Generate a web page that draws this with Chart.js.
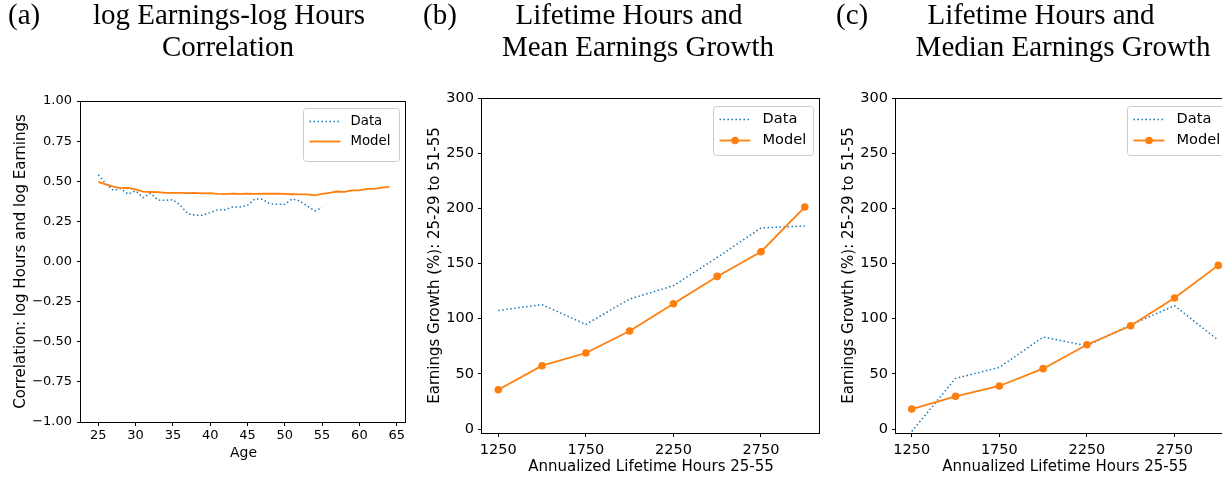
<!DOCTYPE html>
<html>
<head>
<meta charset="utf-8">
<script src="https://cdn.jsdelivr.net/npm/chart.js@4.4.0/dist/chart.umd.min.js"></script>
<style>
  html, body { margin: 0; padding: 0; background: #fff; overflow: hidden; width: 1222px; height: 478px; }
  .wrap { position: relative; width: 1222px; height: 478px; overflow: hidden; }
  canvas { position: absolute; top: 0; }
  .ttl { position: absolute; font-family: 'Liberation Serif', 'Times New Roman', serif; font-size: 29px; line-height: 32px; color: #000; white-space: nowrap; }
  .c { transform: translateX(-50%); }
</style>
</head>
<body>
<div class="wrap">
  <canvas id="chartA" width="415" height="478" style="left:0"></canvas>
  <canvas id="chartB" width="415" height="478" style="left:415px"></canvas>
  <canvas id="chartC" width="420" height="478" style="left:830px"></canvas>

  <div class="ttl" style="left:8px;top:-2.5px">(a)</div>
  <div class="ttl c" style="left:229px;top:-2.5px">log Earnings-log Hours</div>
  <div class="ttl c" style="left:228px;top:29.5px">Correlation</div>

  <div class="ttl" style="left:423px;top:-2.5px">(b)</div>
  <div class="ttl c" style="left:629px;top:-2.5px">Lifetime Hours and</div>
  <div class="ttl c" style="left:638px;top:29.5px">Mean Earnings Growth</div>

  <div class="ttl" style="left:836px;top:-2.5px">(c)</div>
  <div class="ttl c" style="left:1041px;top:-2.5px">Lifetime Hours and</div>
  <div class="ttl c" style="left:1063px;top:29.5px">Median Earnings Growth</div>
</div>
<script>
// (a) correlation of log hours and log earnings by age
const agesData = [25, 26, 27, 28, 29, 30, 31, 32, 33, 34, 35, 36, 37, 38, 39, 40,
  41, 42, 43, 44, 45, 46, 47, 48, 49, 50, 51, 52, 53, 54, 55];
const corrData = [0.540, 0.485, 0.444, 0.454, 0.420, 0.440, 0.398, 0.425, 0.383, 0.381, 0.385,
  0.350, 0.298, 0.288, 0.288, 0.305, 0.322, 0.323, 0.340, 0.340, 0.350, 0.390, 0.388,
  0.360, 0.356, 0.356, 0.390, 0.378, 0.346, 0.315, 0.335];
const agesModel = [25, 26, 27, 28, 29, 30, 31, 32, 33, 34, 35, 36, 37, 38, 39, 40,
  41, 42, 43, 44, 45, 46, 47, 48, 49, 50, 51, 52, 53, 54, 55, 56, 57, 58, 59, 60,
  61, 62, 63, 64];
const corrModel = [0.496, 0.480, 0.466, 0.457, 0.458, 0.449, 0.435, 0.433, 0.432, 0.428,
  0.428, 0.427, 0.426, 0.428, 0.424, 0.426, 0.421, 0.420, 0.423, 0.421, 0.422, 0.421,
  0.422, 0.422, 0.422, 0.421, 0.419, 0.418, 0.418, 0.412, 0.421, 0.428, 0.436, 0.434,
  0.443, 0.443, 0.453, 0.452, 0.460, 0.465];
const ageTicks = [25, 30, 35, 40, 45, 50, 55, 60, 65];
const corrTicks = [-1, -0.75, -0.5, -0.25, 0, 0.25, 0.5, 0.75, 1];

// (b), (c) earnings growth by lifetime hours
const hours = [1250, 1500, 1750, 2000, 2250, 2500, 2750, 3000];
const meanData = [107.5, 112.7, 94.8, 117.8, 129.9, 155.5, 182.2, 184.0];
const meanModel = [35.6, 57.4, 68.9, 88.8, 113.6, 138.3, 160.7, 201.2];
const medianData = [-2.2, 45.9, 55.8, 83.4, 75.5, 94.3, 111.8, 80.5];
const medianModel = [18.1, 29.6, 39.0, 54.7, 76.4, 93.6, 118.7, 148.3];
const hourTicks = [1250, 1750, 2250, 2750];
const growthTicks = [0, 50, 100, 150, 200, 250, 300];

Chart.defaults.font.family = "'DejaVu Sans', sans-serif";
Chart.defaults.font.size = 13;
Chart.defaults.color = '#000';

const BLUE = '#1f77b4', ORANGE = '#ff7f0e';
const pts = (xs, ys) => xs.map((x, i) => ({ x: x, y: ys[i] }));
const minus = s => String(s).replace('-', '\u2212');

// box around the axes + matplotlib style legend
const framePlugin = {
  id: 'frame',
  afterDraw(chart, args, o) {
    const ctx = chart.ctx, a = chart.chartArea;
    ctx.save();
    ctx.strokeStyle = '#000';
    ctx.lineWidth = 1;
    ctx.strokeRect(Math.round(a.left) - 0.5, Math.round(a.top) + 0.5,
      Math.round(a.right - a.left), Math.round(a.bottom - a.top));

    const bx = Math.round(a.right - o.right - o.w) + 0.5;
    const by = Math.round(a.top + o.top) + 0.5;
    ctx.beginPath();
    ctx.roundRect(bx, by, o.w, o.h, 3);
    ctx.fillStyle = 'rgba(255,255,255,0.8)';
    ctx.fill();
    ctx.strokeStyle = '#cccccc';
    ctx.stroke();
    chart.data.datasets.forEach((ds, i) => {
      const y = by + o.rows[i];
      ctx.beginPath();
      ctx.setLineDash(ds.borderDash || []);
      ctx.strokeStyle = ds.borderColor;
      ctx.lineWidth = ds.borderWidth;
      ctx.moveTo(bx + 6, y);
      ctx.lineTo(bx + 37, y);
      ctx.stroke();
      ctx.setLineDash([]);
      if (ds.pointRadius) {
        ctx.beginPath();
        ctx.arc(bx + 21.5, y, ds.pointRadius, 0, Math.PI * 2);
        ctx.fillStyle = ds.borderColor;
        ctx.fill();
      }
      ctx.fillStyle = '#000';
      ctx.font = o.font + "px 'DejaVu Sans'";
      ctx.textBaseline = 'middle';
      ctx.fillText(ds.label, bx + o.textX, y);
    });
    ctx.restore();
  }
};

function axis(opts) {
  return {
    type: 'linear',
    min: opts.min,
    max: opts.max,
    grid: { display: true, drawOnChartArea: false, drawTicks: true, tickLength: 4, color: '#000' },
    border: { display: false },
    ticks: { autoSkip: false, maxRotation: 0, padding: opts.pad, callback: opts.fmt,
      font: { size: opts.tickSize } },
    title: { display: true, text: opts.title, font: { size: opts.titleSize || 15 }, padding: opts.titlePad },
    afterBuildTicks: s => { s.ticks = opts.ticks.map(v => ({ value: v })); },
    afterFit: opts.fit
  };
}

function makeChart(id, datasets, cfg) {
  return new Chart(document.getElementById(id), {
    type: 'line',
    data: { datasets: datasets },
    options: {
      responsive: false,
      animation: false,
      layout: { padding: cfg.padding },
      plugins: { legend: { display: false }, tooltip: { enabled: false }, frame: cfg.legend },
      scales: { x: cfg.x, y: cfg.y }
    },
    plugins: [framePlugin]
  });
}

const dataStyle = { borderColor: BLUE, borderWidth: 1.5, borderDash: [1.5, 2.5], pointRadius: 0, fill: false, tension: 0, order: 1 };
const modelStyle = { borderColor: ORANGE, borderWidth: 1.8, fill: false, tension: 0, order: 0 };

// (a)
makeChart('chartA', [
  Object.assign({ label: 'Data', data: pts(agesData, corrData) }, dataStyle),
  Object.assign({ label: 'Model', data: pts(agesModel, corrModel), pointRadius: 0 }, modelStyle)
], {
  padding: { top: 101, right: 9, left: 0, bottom: 0 },
  legend: { right: 7, top: 7, w: 96, h: 53, rows: [13, 33], font: 13.3, textX: 47 },
  x: axis({ min: 22.68, max: 66.25, ticks: ageTicks, pad: 2, tickSize: 13, title: 'Age', titleSize: 14,
    titlePad: { top: 0, bottom: 16 }, fit: s => { s.height = 56; } }),
  y: axis({ min: -1, max: 1, ticks: corrTicks, pad: 5, tickSize: 13, fmt: v => minus(v.toFixed(2)),
    title: 'Correlation: log Hours and log Earnings',
    titlePad: { top: 12.5, bottom: 0 }, fit: s => { s.width = 81; } })
});

// (b)
makeChart('chartB', [
  Object.assign({ label: 'Data', data: pts(hours, meanData) }, dataStyle),
  Object.assign({ label: 'Model', data: pts(hours, meanModel), pointRadius: 3.8,
    pointBackgroundColor: ORANGE, pointBorderWidth: 0 }, modelStyle)
], {
  padding: { top: 98, right: 10, left: 0, bottom: 0 },
  legend: { right: 7, top: 8, w: 100, h: 49, rows: [13, 34], font: 14.6, textX: 49 },
  x: axis({ min: 1157, max: 3087, ticks: hourTicks, pad: 4.5, tickSize: 14.5, title: 'Annualized Lifetime Hours 25-55',
    titlePad: { top: 0, bottom: 1.5 }, fit: s => { s.height = 45; } }),
  y: axis({ min: -3.6, max: 300, ticks: growthTicks, pad: 4, tickSize: 14.5, fmt: v => minus(v),
    title: 'Earnings Growth (%): 25-29 to 51-55',
    titlePad: { top: 11.5, bottom: 0 }, fit: s => { s.width = 67; } })
});

// (c)
makeChart('chartC', [
  Object.assign({ label: 'Data', data: pts(hours, medianData) }, dataStyle),
  Object.assign({ label: 'Model', data: pts(hours, medianModel), pointRadius: 3.8,
    pointBackgroundColor: ORANGE, pointBorderWidth: 0 }, modelStyle)
], {
  padding: { top: 98, right: 16, left: 0, bottom: 0 },
  legend: { right: 7, top: 8, w: 100, h: 49, rows: [13, 34], font: 14.6, textX: 49 },
  x: axis({ min: 1160, max: 3090, ticks: hourTicks, pad: 4.5, tickSize: 14.5, title: 'Annualized Lifetime Hours 25-55',
    titlePad: { top: 0, bottom: 1.5 }, fit: s => { s.height = 45; } }),
  y: axis({ min: -3.6, max: 300, ticks: growthTicks, pad: 4, tickSize: 14.5, fmt: v => minus(v),
    title: 'Earnings Growth (%): 25-29 to 51-55',
    titlePad: { top: 10, bottom: 0 }, fit: s => { s.width = 66; } })
});
</script>
</body>
</html>
